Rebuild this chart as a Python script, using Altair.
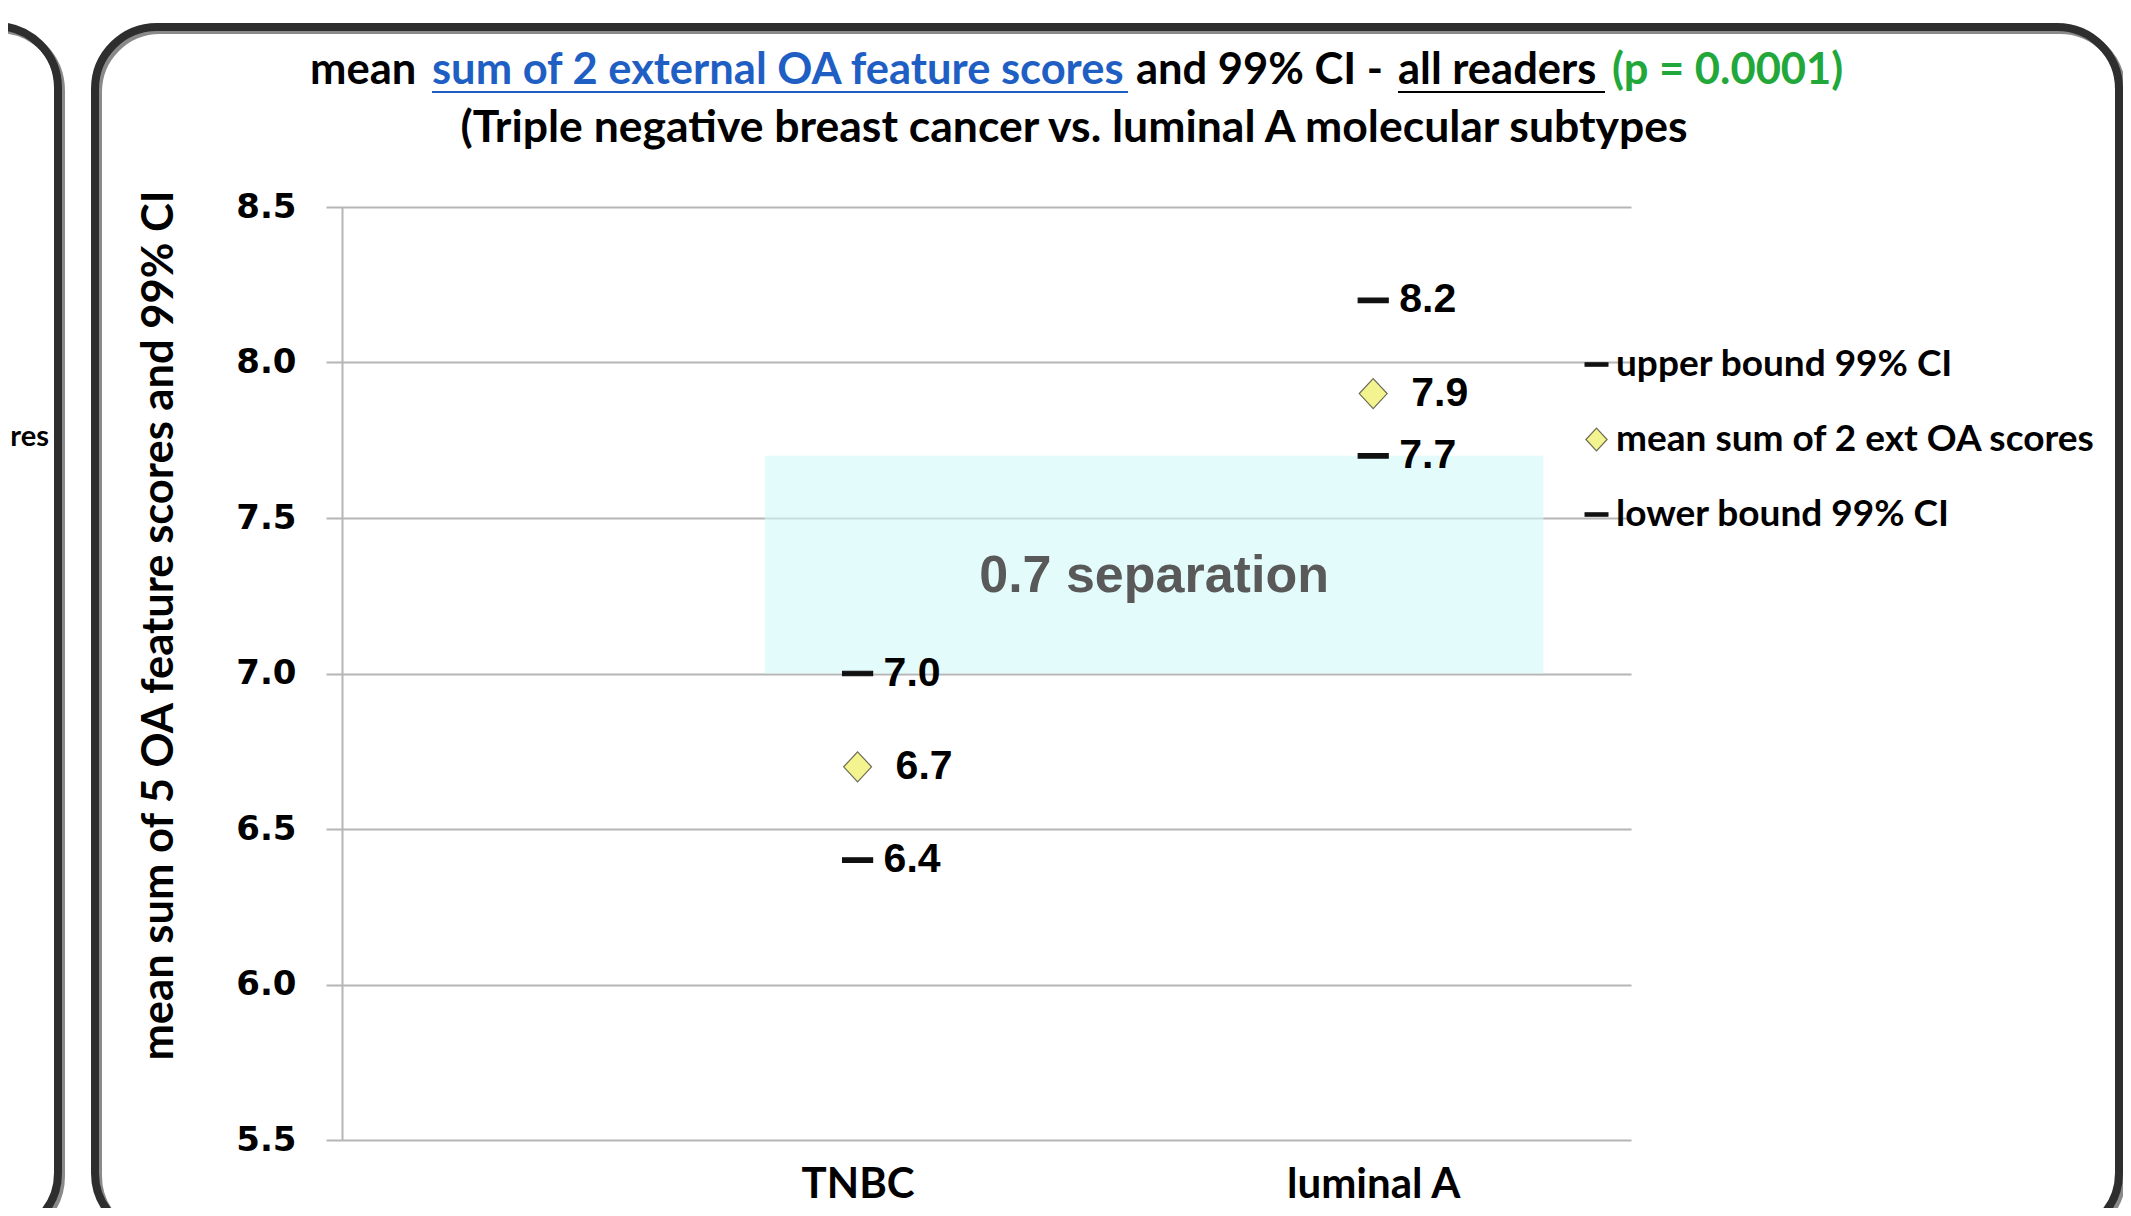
import altair as alt
import pandas as pd

# ---------------- data ----------------
categories = ["TNBC", "luminal A"]
upper_ci = [7.0, 8.2]
mean_scores = [6.7, 7.9]
lower_ci = [6.4, 7.7]
series_names = ["upper bound 99% CI", "mean sum of 2 ext OA  scores", "lower bound 99% CI"]
y_ticks = [5.5, 6.0, 6.5, 7.0, 7.5, 8.0, 8.5]
sep_label = "0.7 separation"
sep_x = [0.82, 2.33]   # extent of the shaded separation band along the category axis

y_title = "mean sum of 5 OA feature  scores and 99% CI"
title_row1 = ["mean ", "sum of 2 external OA feature scores", "and 99% CI  - ", "all readers", "(p = 0.0001)"]
title_row2 = "(Triple negative breast cancer vs. luminal A molecular subtypes"
left_panel_text = "res"

# ---------------- layout constants ----------------
W, H = 1289, 933
PAD = {"left": 334, "top": 199, "right": 492, "bottom": 68}
CAL = "Lato"
ARIAL = "Liberation Sans"
VERD = "DejaVu Sans"

rows = []
for i, cat in enumerate(categories):
    for s, vals in zip(series_names, [upper_ci, mean_scores, lower_ci]):
        rows.append({"category": cat, "pos": i + 1, "series": s,
                     "value": vals[i], "label": f"{vals[i]:.1f}"})
df = pd.DataFrame(rows)
one = pd.DataFrame({"k": [0]})

label_expr = "[" + ",".join("'" + c + "'" for c in categories) + "][datum.value - 1]"

x_enc = alt.X("pos:Q", scale=alt.Scale(domain=[0, 2.5], nice=False, zero=False),
              axis=alt.Axis(values=[i + 1 for i in range(len(categories))], labelExpr=label_expr,
                            title=None, grid=False, domain=False, ticks=False,
                            labelFont=CAL, labelFontWeight="bold", labelFontSize=42,
                            labelColor="black", labelPadding=24, labelBaseline="top"))
y_enc = alt.Y("value:Q", scale=alt.Scale(domain=[5.5, 8.5], nice=False, zero=False),
              axis=alt.Axis(values=y_ticks, format=".1f", title=y_title,
                            titleFont=CAL, titleFontWeight="bold", titleFontSize=43.5, titleColor="black",
                            titleAngle=270, titleX=-183, titleY=418, titleAlign="center", titleBaseline="middle",
                            labelFont=VERD, labelFontWeight="bold", labelFontSize=34, labelColor="black",
                            labelPadding=30, tickSize=16, tickColor="#b5b5b5", tickWidth=2,
                            domainColor="#b5b5b5", domainWidth=2,
                            gridColor="#b5b5b5", gridWidth=2))

dash = "M-1,-0.15L1,-0.15L1,0.15L-1,0.15Z"
diamond = "M0,-1L0.93,0L0,1L-0.93,0Z"
leg = alt.Legend(title=None, orient="none", legendX=1236, legendY=139,
                 labelFont=CAL, labelFontWeight="bold", labelFontSize=37, labelColor="black",
                 labelLimit=0, symbolSize=520, symbolStrokeWidth=1.2, rowPadding=37,
                 labelOffset=1, padding=0)
dom = series_names

frames = [
    # left neighbouring panel
    alt.Chart(one).mark_rect(fillOpacity=0, stroke="#8a8a8a", strokeWidth=8, cornerRadius=62).encode(
        x=alt.value(-900), x2=alt.value(58 - 342 + 3), y=alt.value(26 - 207 + 3), y2=alt.value(1235 - 207 + 3)),
    alt.Chart(one).mark_rect(fillOpacity=0, stroke="#2e2e2e", strokeWidth=8, cornerRadius=62).encode(
        x=alt.value(-900), x2=alt.value(58 - 342), y=alt.value(26 - 207), y2=alt.value(1235 - 207)),
    # main panel frame (shadow + frame)
    alt.Chart(one).mark_rect(fillOpacity=0, stroke="#8a8a8a", strokeWidth=8, cornerRadius=62).encode(
        x=alt.value(95 - 342 + 3), x2=alt.value(2119 - 342 + 3), y=alt.value(27 - 207 + 3), y2=alt.value(1235 - 207 + 3)),
    alt.Chart(one).mark_rect(fillOpacity=0, stroke="#2e2e2e", strokeWidth=8, cornerRadius=62).encode(
        x=alt.value(95 - 342), x2=alt.value(2119 - 342), y=alt.value(27 - 207), y2=alt.value(1235 - 207)),
    alt.Chart(one).mark_text(font=CAL, fontWeight="bold", fontSize=29, align="right", baseline="middle").encode(
        x=alt.value(49 - 342), y=alt.value(437 - 207), text=alt.value(left_panel_text)),
]

band_df = pd.DataFrame({"pos": [sep_x[0]], "pos2": [sep_x[1]],
                        "value": [upper_ci[0]], "value2": [lower_ci[1]],
                        "mid_x": [(sep_x[0] + sep_x[1]) / 2], "mid_y": [(upper_ci[0] + lower_ci[1]) / 2],
                        "txt": [sep_label]})
band = alt.Chart(band_df).mark_rect(fill="#d2f9f9", opacity=0.62).encode(
    x="pos:Q", x2="pos2:Q", y="value:Q", y2="value2:Q")
band_text = alt.Chart(band_df).mark_text(font=ARIAL, fontWeight="bold", fontSize=52, color="#595959",
                                         baseline="middle", dy=11).encode(
    x=alt.X("mid_x:Q"), y=alt.Y("mid_y:Q"), text="txt:N")

points = alt.Chart(df).mark_point(filled=True, size=900, strokeWidth=1.2, opacity=1).encode(
    x=x_enc, y=y_enc,
    shape=alt.Shape("series:N", scale=alt.Scale(domain=dom, range=[dash, diamond, dash]), legend=leg),
    fill=alt.Fill("series:N", scale=alt.Scale(domain=dom, range=["#111111", "#f3f38f", "#111111"]), legend=leg),
    stroke=alt.Stroke("series:N", scale=alt.Scale(domain=dom, range=["#111111", "#6b6b55", "#111111"]), legend=leg),
)

bound_labels = alt.Chart(df).transform_filter(
    alt.datum.series != series_names[1]).mark_text(
    font=ARIAL, fontWeight="bold", fontSize=41, align="left", baseline="middle", dx=26, color="black").encode(
    x="pos:Q", y="value:Q", text="label:N")
mean_labels = alt.Chart(df).transform_filter(
    alt.datum.series == series_names[1]).mark_text(
    font=ARIAL, fontWeight="bold", fontSize=41, align="left", baseline="middle", dx=38, color="black").encode(
    x="pos:Q", y="value:Q", text="label:N")

# multi-coloured title, row 1
seg_x = [310, 432, 1136, 1398, 1612]
seg_col = ["black", "#1f5fc4", "black", "black", "#22a83a"]
title_layers = []
for txt, sx, col in zip(title_row1, seg_x, seg_col):
    title_layers.append(alt.Chart(one).mark_text(font=CAL, fontWeight="bold", fontSize=43.5, align="left",
                                                 baseline="alphabetic", color=col).encode(
        x=alt.value(sx - 342), y=alt.value(84 - 207), text=alt.value(txt)))
title_layers.append(alt.Chart(one).mark_rule(color="#1f5fc4", strokeWidth=2).encode(
    x=alt.value(432 - 342), x2=alt.value(1128 - 342), y=alt.value(92 - 207)))
title_layers.append(alt.Chart(one).mark_rule(color="black", strokeWidth=2).encode(
    x=alt.value(1398 - 342), x2=alt.value(1605 - 342), y=alt.value(92 - 207)))
title_layers.append(alt.Chart(one).mark_text(font=CAL, fontWeight="bold", fontSize=44.5, align="center",
                                             baseline="middle", color="black").encode(
    x=alt.value(1074 - 342), y=alt.value(129 - 207), text=alt.value(title_row2)))

chart = alt.layer(*frames, band, band_text, points, bound_labels, mean_labels, *title_layers).properties(
    width=W, height=H, padding=PAD,
    autosize=alt.AutoSizeParams(type="none"),
    background="white",
).configure_view(stroke=None)

chart.save("out.html", embed_options={"renderer": "svg", "actions": False})
